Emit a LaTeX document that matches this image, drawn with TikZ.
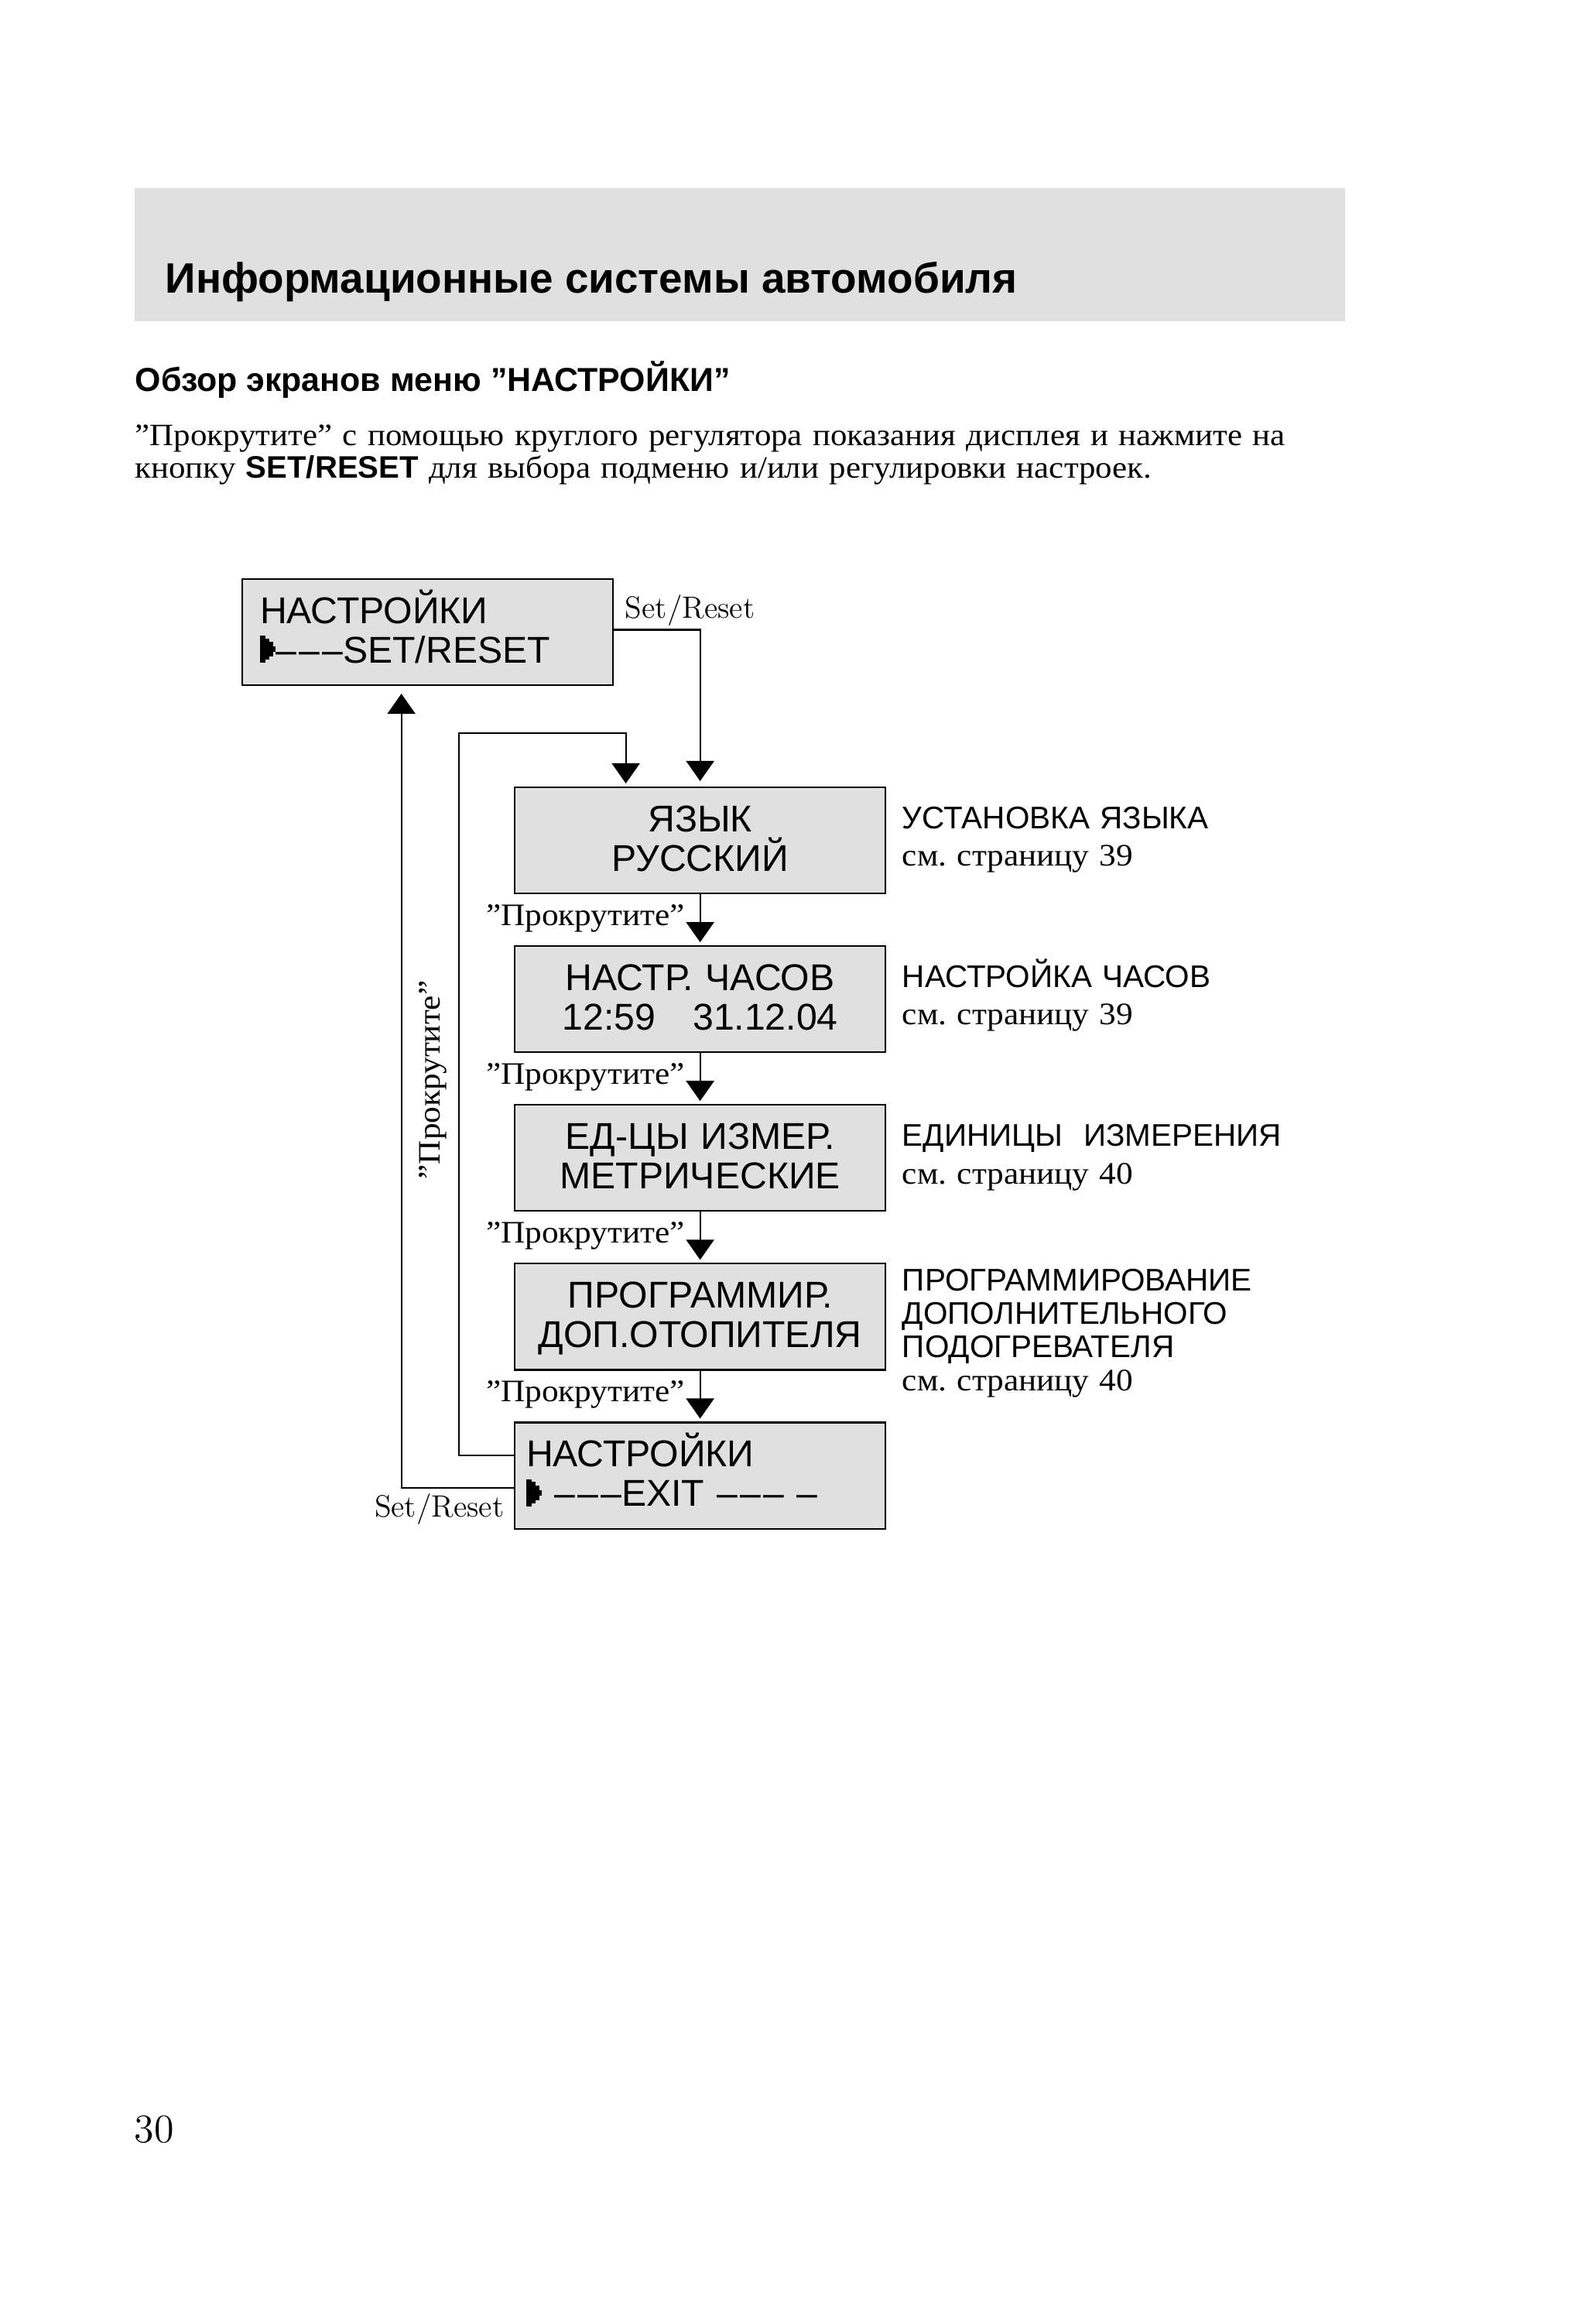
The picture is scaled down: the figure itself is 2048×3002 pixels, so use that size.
\documentclass[tikz,border=0pt]{standalone}
\usepackage{fontspec}
\newfontfamily\hvfont{Liberation Sans}
\newfontfamily\tmfont[FakeStretch=1.07]{Liberation Serif}
\usetikzlibrary{arrows.meta,positioning,calc}
\definecolor{lcdgray}{RGB}{224,224,224}
\frenchspacing
% stepped cursor of the display
\newcommand\lcdptr{\rule{0.7mm}{3.5mm}\rule[0.4mm]{0.5mm}{2.7mm}\rule[0.8mm]{0.5mm}{1.9mm}\rule[1.4mm]{0.3mm}{0.7mm}}
\newcommand\lcddash{–\kern.07em–\kern.07em–}

\begin{document}
\begin{tikzpicture}[x=0.01cm,y=-0.01cm,
  >={Triangle[width=0.36cm,length=0.26cm]},
  flow/.style={->,line width=0.6pt,shorten >=0.05cm},
  lcd/.style={draw,line width=0.6pt,fill=lcdgray,minimum width=4.79cm,
    minimum height=1.37cm,inner sep=0pt,outer sep=0pt,
    font=\hvfont\fontsize{13.7pt}{14.5pt}\selectfont,
    text height=0.36cm,text depth=0.59cm},
  lcdc/.style={lcd,align=center,text width=4.79cm},
  lcdl/.style={lcd,align=left},
  note/.style={anchor=base west,inner sep=0pt,align=left,text width=5cm,
    font=\hvfont\fontsize{11.5pt}{12.25pt}\selectfont},
  serif/.style={font=\tmfont\fontsize{11.5pt}{13pt}\selectfont},
  spin/.style={serif,anchor=base east,inner sep=0pt},
  setr/.style={inner sep=0pt,font=\fontsize{11.3pt}{13pt}\selectfont}
]
\useasboundingbox (0,0) rectangle (2048,3002);
\fill[white] (0,0) rectangle (2048,3002);

% page header
\fill[lcdgray] (174,243) rectangle (1738,415);
\node[anchor=base west,inner sep=0pt,font=\hvfont\bfseries\fontsize{15.6pt}{18pt}\selectfont]
  (title) at (213,378) {Информационные системы автомобиля};
\node[anchor=base west,inner sep=0pt,font=\hvfont\bfseries\fontsize{12.2pt}{14pt}\selectfont]
  (subtitle) at (174,505) {Обзор экранов меню ”НАСТРОЙКИ”};
\node[anchor=base west,inner sep=0pt,align=left,text width=16cm,
  font=\tmfont\fontsize{11.4pt}{11.95pt}\selectfont]
  (intro) at (174,575) {”Прокрутите” с помощью круглого регулятора показания дисплея и нажмите на\\
  кнопку {\hvfont\bfseries SET/RESET} для выбора подменю и/или регулировки настроек.};

% display screens
\node[lcdl,text width=4.33cm,anchor=north west] (menu) at (313,748)
  {НАСТРОЙКИ\\\lcdptr\lcddash SET/RESET};
\node[lcdc,anchor=north west] (lang) at (665,1017) {ЯЗЫК\\РУССКИЙ};
\node[lcdc,below=0.68cm of lang] (clock) {НАСТР. ЧАСОВ\\12:59\quad 31.12.04};
\node[lcdc,below=0.68cm of clock] (units) {ЕД-ЦЫ ИЗМЕР.\\МЕТРИЧЕСКИЕ};
\node[lcdc,below=0.68cm of units] (heater) {ПРОГРАММИР.\\ДОП.ОТОПИТЕЛЯ};
\node[lcdl,text width=4.49cm,below=0.68cm of heater] (exit)
  {НАСТРОЙКИ\\\lcdptr\ \lcddash EXIT \lcddash\ –};

% page references
\node[note] (langnote) at ($(lang.north east)+(21,53)$)
  {УСТАНОВКА ЯЗЫКА\\[1.4pt]{\tmfont см.\ страницу 39}};
\node[note] (clocknote) at ($(clock.north east)+(21,53)$)
  {НАСТРОЙКА ЧАСОВ\\[1.4pt]{\tmfont см.\ страницу 39}};
\node[note] (unitsnote) at ($(units.north east)+(21,53)$)
  {\mbox{ЕДИНИЦЫ\ \ ИЗМЕРЕНИЯ}\\[1.7pt]{\tmfont см.\ страницу 40}};
\node[note] (heaternote) at ($(heater.north east)+(21,35)$)
  {ПРОГРАММИРОВАНИЕ\\ДОПОЛНИТЕЛЬНОГО\\ПОДОГРЕВАТЕЛЯ\\{\tmfont см.\ страницу 40}};

% scrolling between screens
\foreach \a/\b [count=\i] in {lang/clock,clock/units,units/heater,heater/exit}{
  \draw[flow] (\a) -- (\b);
  \node[spin] (spin\i) at ($(\a.south)+(-19,41)$) {”Прокрутите”};
}

% set/reset and return paths
\node[setr,anchor=base west] (setrtop) at ($(menu.north east)+(15,50)$) {Set/Reset};
\node[setr,anchor=base east] (setrbot) at ($(exit.south west)+(-13,-15)$) {Set/Reset};
\draw[flow,shorten >=0.08cm] ($(menu.east)+(0,-3)$) -| (lang.north);
\draw[flow] ($(exit.west)+(0,-26)$) -- ++(-72,0) |- ($(lang.north)+(-96,-70)$)
  -- ($(lang.north)+(-96,0)$);
\draw[flow,shorten >=0.11cm] ($(exit.west)+(0,16)$) -| ($(menu.south)+(-34,0)$);
\node[spin,anchor=base,rotate=90] (spinback) at (568,1395) {”Прокрутите”};

\node[anchor=base west,inner sep=0pt,font=\fontsize{14.8pt}{17pt}\selectfont]
  (pageno) at (173,2767) {30};
\end{tikzpicture}
\end{document}
